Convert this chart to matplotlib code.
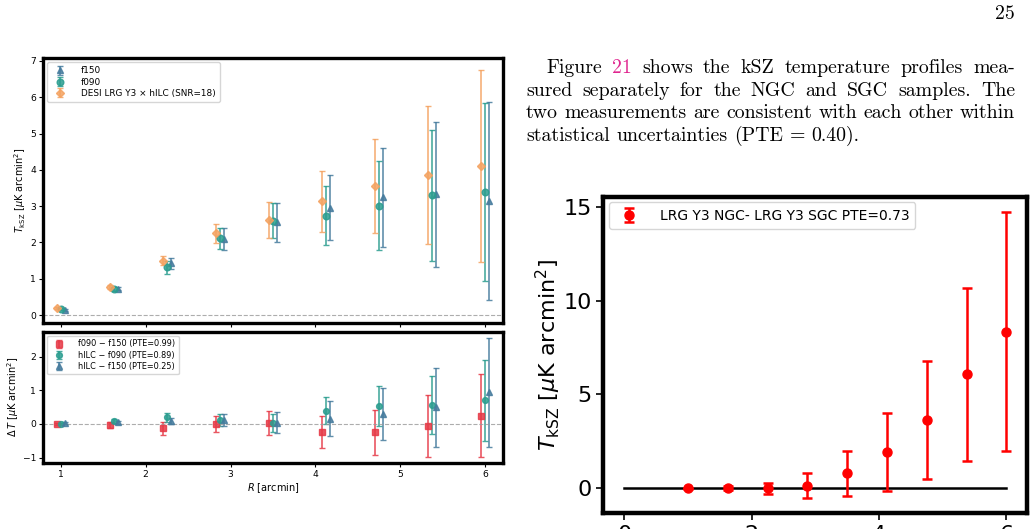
import matplotlib
matplotlib.use("Agg")
import matplotlib.pyplot as plt
import numpy as np

# ---------------- data ----------------
R_bins = [1.0, 1.625, 2.25, 2.875, 3.5, 4.125, 4.75, 5.375, 6.0]

f150 = [0.14, 0.73, 1.42, 2.09, 2.55, 2.96, 3.24, 3.32, 3.15]
f150_err = [0.03, 0.05, 0.14, 0.30, 0.53, 0.90, 1.36, 2.00, 2.73]
f090 = [0.17, 0.71, 1.31, 2.12, 2.60, 2.74, 3.01, 3.30, 3.40]
f090_err = [0.03, 0.05, 0.17, 0.29, 0.48, 0.82, 1.23, 1.80, 2.45]
hilc = [0.20, 0.78, 1.50, 2.25, 2.62, 3.13, 3.55, 3.86, 4.10]
hilc_err = [0.03, 0.05, 0.12, 0.27, 0.49, 0.84, 1.29, 1.91, 2.64]

d_f090_f150 = [0.00, -0.03, -0.13, 0.00, 0.03, -0.23, -0.25, -0.05, 0.24]
d_f090_f150_err = [0.02, 0.08, 0.19, 0.25, 0.35, 0.47, 0.66, 0.92, 1.23]
d_hilc_f090 = [0.01, 0.09, 0.20, 0.12, 0.02, 0.39, 0.54, 0.56, 0.70]
d_hilc_f090_err = [0.03, 0.05, 0.13, 0.18, 0.27, 0.40, 0.60, 0.87, 1.20]
d_hilc_f150 = [0.03, 0.05, 0.09, 0.12, 0.04, 0.15, 0.29, 0.49, 0.94]
d_hilc_f150_err = [0.03, 0.05, 0.10, 0.19, 0.32, 0.52, 0.78, 1.16, 1.62]

ngc_sgc = [0.00, 0.00, 0.00, 0.14, 0.80, 1.94, 3.63, 6.07, 8.35]
ngc_sgc_err = [0.02, 0.10, 0.30, 0.67, 1.20, 2.08, 3.13, 4.60, 6.34]

top_labels = ["f150", "f090", "DESI LRG Y3 \u00d7 hILC (SNR=18)"]
bot_labels = ["f090 \u2212 f150 (PTE=0.99)", "hILC \u2212 f090 (PTE=0.89)",
              "hILC \u2212 f150 (PTE=0.25)"]
right_label = "LRG Y3 NGC- LRG Y3 SGC PTE=0.73"

para_lines = [
    ["Figure", "21", "shows", "the", "kSZ", "temperature", "profiles", "mea-"],
    ["sured", "separately", "for", "the", "NGC", "and", "SGC", "samples.", "The"],
    ["two", "measurements", "are", "consistent", "with", "each", "other", "within"],
    ["statistical", "uncertainties", "(PTE", "=", "0.40)."],
]

# ---------------- style ----------------
C_BLUE = "#457b9d"
C_GREEN = "#2a9d8f"
C_ORANGE = "#f4a261"
C_RED = "#e63946"
ALPHA = 0.85

R = np.array(R_bins)
off = 0.05

W, H = 1034, 529
fig = plt.figure(figsize=(W / 100, H / 100), dpi=100)

def box(l, t, r, b):
    return [l / W, 1 - b / H, (r - l) / W, (b - t) / H]

ax1 = fig.add_axes(box(43, 58, 503, 323))
ax2 = fig.add_axes(box(43, 331.7, 503, 462.7))
ax3 = fig.add_axes(box(603.3, 196.7, 1026.7, 512.7))

ekw = dict(elinewidth=1.2, capsize=2.2, capthick=1.0, alpha=ALPHA, linestyle="none")

# top-left
ax1.errorbar(R + off, f150, yerr=f150_err, fmt="^", color=C_BLUE, ms=4.8, label=top_labels[0], **ekw)
ax1.errorbar(R, f090, yerr=f090_err, fmt="o", color=C_GREEN, ms=4.8, label=top_labels[1], **ekw)
ax1.errorbar(R - off, hilc, yerr=hilc_err, fmt="D", color=C_ORANGE, ms=4.2, label=top_labels[2], **ekw)
ax1.axhline(0, color="0.6", ls="--", lw=0.8, alpha=0.8)
ax1.set_xlim(0.79, 6.21)
ax1.set_ylim(-0.22, 7.08)
ax1.set_xticks([1, 2, 3, 4, 5, 6])
ax1.tick_params(labelbottom=False)
ax1.set_ylabel(r"$T_{\rm kSZ}$ [$\mu$K arcmin$^2$]", fontsize=7, labelpad=1.5)
ax1.legend(loc="upper left", fontsize=6.4, frameon=True, borderpad=0.45, handletextpad=1.3,
           labelspacing=0.25)

# bottom-left
ax2.errorbar(R - off, d_f090_f150, yerr=d_f090_f150_err, fmt="s", color=C_RED, ms=4.2, label=bot_labels[0], **ekw)
ax2.errorbar(R, d_hilc_f090, yerr=d_hilc_f090_err, fmt="o", color=C_GREEN, ms=4.2, label=bot_labels[1], **ekw)
ax2.errorbar(R + off, d_hilc_f150, yerr=d_hilc_f150_err, fmt="^", color=C_BLUE, ms=4.2, label=bot_labels[2], **ekw)
ax2.axhline(0, color="0.6", ls="--", lw=0.8, alpha=0.8)
ax2.set_xlim(0.79, 6.21)
ax2.set_ylim(-1.15, 2.74)
ax2.set_xticks([1, 2, 3, 4, 5, 6])
ax2.set_yticks([-1, 0, 1, 2])
ax2.set_xlabel(r"$R$ [arcmin]", fontsize=7, labelpad=2)
ax2.set_ylabel(r"$\Delta\,T$ [$\mu$K arcmin$^2$]", fontsize=7, labelpad=1.5)
ax2.legend(loc="upper left", fontsize=5.9, frameon=True, borderpad=0.45, handletextpad=1.3,
           labelspacing=0.25)

for ax in (ax1, ax2):
    ax.tick_params(labelsize=6.6, length=3, width=0.8, pad=2)
    for s in ax.spines.values():
        s.set_linewidth(2.4)

# right
ax3.plot([0, 6], [0, 0], color="black", lw=1.8)
ax3.errorbar(R, ngc_sgc, yerr=ngc_sgc_err, fmt="o", color="red", ms=6.5, elinewidth=1.8,
             capsize=3.5, capthick=1.8, label=right_label)
ax3.set_xlim(-0.33, 6.32)
ax3.set_ylim(-1.3, 15.53)
ax3.set_xticks([0, 2, 4, 6])
ax3.set_yticks([0, 5, 10, 15])
ax3.tick_params(labelsize=16, length=5, width=1.2)
ax3.set_ylabel(r"$T_{\rm kSZ}$ [$\mu$K arcmin$^2$]", fontsize=16, labelpad=0)
ax3.legend(loc="upper left", fontsize=10, frameon=True, borderpad=0.45, handletextpad=1.2,
           borderaxespad=0.4)
for s in ax3.spines.values():
    s.set_linewidth(3.2)

# ---------------- paragraph text ----------------
TFONT = "cmr10"
TSIZE = 14.3
PINK = "#e0258f"
renderer = fig.canvas.get_renderer()

def word_width(w):
    t = fig.text(0, 0, w, family=TFONT, fontsize=TSIZE)
    bb = t.get_window_extent(renderer=renderer)
    t.remove()
    return bb.width

space_w = word_width("a b") - word_width("ab")

line_specs = [  # (x_start, x_end, baseline_y, justify)
    (546, 1015, 72.7, True),
    (526, 1015, 95.7, True),
    (526, 1015, 118.3, True),
    (526, 1015, 140.7, False),
]

for words, (x0, x1, yb, just) in zip(para_lines, line_specs):
    widths = [word_width(w) for w in words]
    if just and len(words) > 1:
        gap = (x1 - x0 - sum(widths)) / (len(words) - 1)
    else:
        gap = space_w
    x = x0
    for w, ww in zip(words, widths):
        col = PINK if w == "21" else "black"
        fig.text(x / W, 1 - yb / H, w, family=TFONT, fontsize=TSIZE, color=col,
                 ha="left", va="baseline")
        x += ww + gap

fig.text(1015 / W, 1 - 19.3 / H, "25", family=TFONT, fontsize=TSIZE, ha="right", va="baseline")

fig.savefig("out.png", dpi=100)
